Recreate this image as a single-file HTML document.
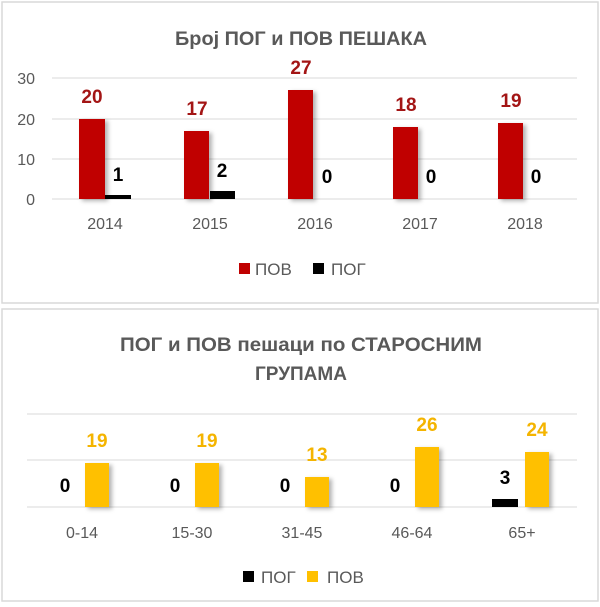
<!DOCTYPE html>
<html><head><meta charset="utf-8"><style>
body{margin:0;background:#fff;}
svg text{font-family:"Liberation Sans","DejaVu Sans",sans-serif;}
</style></head><body>
<svg width="600" height="602" xmlns="http://www.w3.org/2000/svg">
<defs>
<filter id="sh" x="-20%" y="-10%" width="160%" height="130%">
<feDropShadow dx="3" dy="2" stdDeviation="2" flood-color="#000" flood-opacity="0.3"/>
</filter>
</defs>
<rect x="2" y="2" width="596" height="301" fill="#fff" stroke="#d9d9d9" stroke-width="1.5"/>
<rect x="2" y="309" width="596" height="292" fill="#fff" stroke="#d9d9d9" stroke-width="1.5"/>

<text x="301" y="45" text-anchor="middle" font-size="19" font-weight="bold" fill="#595959" textLength="252" lengthAdjust="spacingAndGlyphs">Број ПОГ и ПОВ ПЕШАКА</text>
<g stroke="#d9d9d9" stroke-width="1">
<line x1="52" y1="78" x2="577" y2="78"/><line x1="52" y1="119" x2="577" y2="119"/>
<line x1="52" y1="159" x2="577" y2="159"/><line x1="52" y1="199" x2="577" y2="199"/>
</g>
<g font-size="16" fill="#595959" text-anchor="end">
<text x="35" y="84">30</text><text x="35" y="125">20</text><text x="35" y="165">10</text><text x="35" y="205">0</text>
</g>
<g fill="#c00000" filter="url(#sh)">
<rect x="79" y="119" width="26" height="80"/>
<rect x="184" y="131" width="25" height="68"/>
<rect x="288" y="90" width="25" height="109"/>
<rect x="393" y="127" width="25" height="72"/>
<rect x="498" y="123" width="25" height="76"/>
</g>
<g fill="#000">
<rect x="105" y="195" width="26" height="4"/>
<rect x="210" y="191" width="25" height="8"/>
</g>
<g font-size="19" font-weight="bold" fill="#a31515" text-anchor="middle">
<text x="92" y="103">20</text><text x="197" y="115">17</text><text x="301" y="74">27</text><text x="406" y="111">18</text><text x="511" y="107">19</text>
</g>
<g font-size="19" font-weight="bold" fill="#000" text-anchor="middle">
<text x="118" y="181">1</text><text x="222" y="177">2</text><text x="327" y="183">0</text><text x="431" y="183">0</text><text x="536" y="183">0</text>
</g>
<g font-size="16" fill="#595959" text-anchor="middle">
<text x="105" y="229">2014</text><text x="210" y="229">2015</text><text x="315" y="229">2016</text><text x="420" y="229">2017</text><text x="525" y="229">2018</text>
</g>
<rect x="239" y="263" width="11" height="11" fill="#c00000"/>
<text x="255" y="275" font-size="17" fill="#595959">ПОВ</text>
<rect x="313" y="263" width="11" height="11" fill="#000"/>
<text x="331" y="275" font-size="17" fill="#595959">ПОГ</text>

<text x="301" y="351" text-anchor="middle" font-size="19" font-weight="bold" fill="#595959" textLength="362" lengthAdjust="spacingAndGlyphs">ПОГ  и ПОВ пешаци по СТАРОСНИМ</text>
<text x="301" y="380" text-anchor="middle" font-size="19" font-weight="bold" fill="#595959">ГРУПАМА</text>
<g stroke="#d9d9d9" stroke-width="1">
<line x1="27" y1="414" x2="577" y2="414"/><line x1="27" y1="460" x2="577" y2="460"/><line x1="27" y1="507" x2="577" y2="507"/>
</g>
<g fill="#ffc000" filter="url(#sh)">
<rect x="85" y="463" width="24" height="44"/>
<rect x="195" y="463" width="24" height="44"/>
<rect x="305" y="477" width="24" height="30"/>
<rect x="415" y="447" width="24" height="60"/>
<rect x="525" y="452" width="24" height="55"/>
</g>
<rect x="492" y="499" width="26" height="8" fill="#000"/>
<g font-size="19" font-weight="bold" fill="#f4b400" text-anchor="middle">
<text x="97" y="447">19</text><text x="207" y="447">19</text><text x="317" y="461">13</text><text x="427" y="431">26</text><text x="537" y="436">24</text>
</g>
<g font-size="19" font-weight="bold" fill="#000" text-anchor="middle">
<text x="65" y="492">0</text><text x="175" y="492">0</text><text x="285" y="492">0</text><text x="395" y="492">0</text><text x="505" y="484">3</text>
</g>
<g font-size="16" fill="#595959" text-anchor="middle">
<text x="82" y="538">0-14</text><text x="192" y="538">15-30</text><text x="302" y="538">31-45</text><text x="412" y="538">46-64</text><text x="522" y="538">65+</text>
</g>
<rect x="243" y="571" width="11" height="11" fill="#000"/>
<text x="261" y="583" font-size="17" fill="#595959">ПОГ</text>
<rect x="307" y="571" width="11" height="11" fill="#ffc000"/>
<text x="327" y="583" font-size="17" fill="#595959">ПОВ</text>
</svg>
</body></html>
